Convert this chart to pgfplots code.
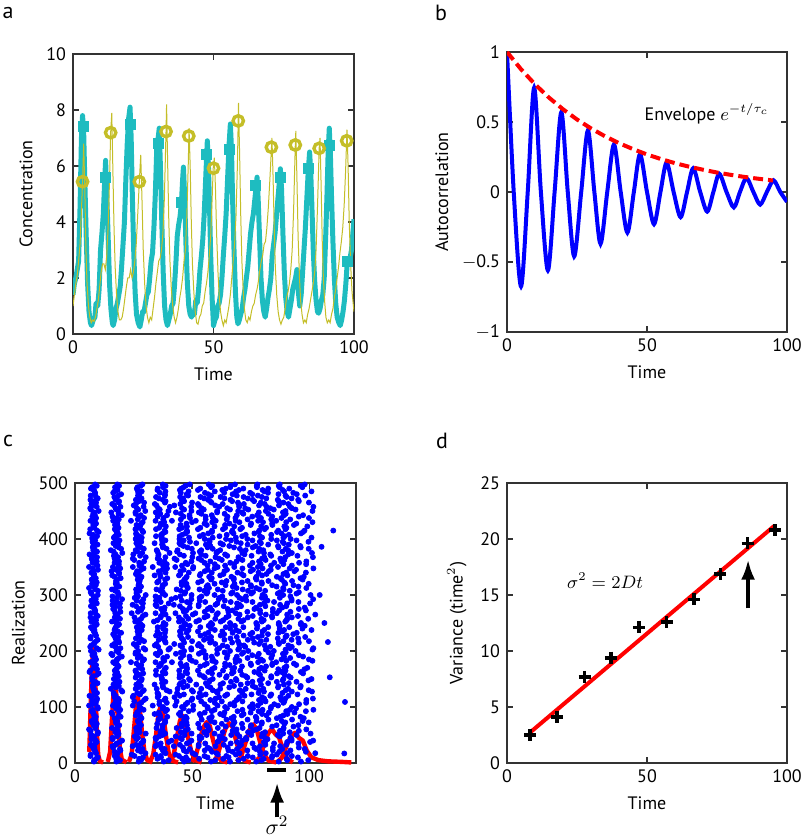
\documentclass[border=0pt]{standalone}
\usepackage{fontspec}
\setmainfont{PT Sans}
\usepackage{pgfplots}
\pgfplotsset{compat=1.18}
\usepackage{pgfplotstable}
\usetikzlibrary{arrows.meta}

\definecolor{cyanline}{RGB}{30,188,192}
\definecolor{oliveline}{RGB}{196,190,40}

\pgfplotsset{panel/.style={
  scale only axis, width=140pt, height=140pt, anchor=south west,
  tick align=inside, major tick length=3pt,
  axis line style={black!80, line width=0.6pt},
  every tick/.style={black!80, line width=0.6pt},
  tick label style={font=\fontsize{9}{10}\selectfont},
  label style={font=\fontsize{9}{10}\selectfont},
  /pgf/number format/assume math mode=true,
  xlabel={Time},
}}

% peak times of each realization (panel c): y, then peaks 1..10
\pgfplotstableread{
y t1 t2 t3 t4 t5 t6 t7 t8 t9 t10
2.5 8.1 17.7 27.2 37.9 46.6 58.1 66.2 77.4 87.0 96.5
7.5 9.0 17.6 27.4 35.2 45.8 53.0 63.3 72.0 80.6 90.4
12.5 6.6 17.0 25.4 36.6 44.4 55.3 64.6 73.8 84.2 92.6
17.5 9.0 18.2 30.1 38.7 50.3 60.4 70.3 81.5 90.6 102.6
22.5 8.5 19.4 26.9 37.5 46.5 55.4 65.5 73.6 84.5 92.0
27.5 8.3 16.3 27.3 36.8 46.1 56.7 65.2 76.6 84.5 95.6
32.5 6.8 17.3 26.1 34.9 44.8 52.8 63.5 70.9 81.3 90.2
37.5 9.3 19.2 29.0 40.0 49.0 60.8 69.2 80.7 90.6 100.4
42.5 7.0 16.1 26.3 34.6 45.6 53.3 64.0 73.2 82.2 92.5
47.5 8.2 17.9 25.5 36.0 43.0 53.2 61.7 70.2 79.8 87.5
52.5 9.7 18.6 30.2 38.5 49.8 59.6 69.2 80.1 88.9 100.6
57.5 6.7 18.2 26.3 37.5 47.1 56.6 67.3 76.0 87.5 95.6
62.5 8.6 15.8 26.1 34.8 43.4 53.2 61.0 71.6 78.8 89.1
67.5 8.0 18.9 28.2 37.4 47.8 56.2 67.4 75.2 86.1 95.4
72.5 7.3 17.4 27.3 38.5 47.6 59.6 68.1 79.8 89.8 99.8
77.5 8.6 17.5 27.6 35.7 46.6 54.1 64.7 73.7 82.6 92.7
82.5 8.9 19.5 28.0 39.4 47.3 58.4 67.8 77.2 87.7 96.3
87.5 7.9 15.9 26.6 34.0 44.4 53.3 62.0 72.0 79.9 90.7
92.5 7.0 18.8 27.2 38.7 48.6 58.4 69.4 78.4 90.2 98.6
97.5 9.8 17.5 28.2 37.4 46.4 56.7 64.9 76.0 83.6 94.4
102.5 6.0 16.2 24.7 33.2 42.8 50.5 60.9 68.0 78.1 86.7
107.5 8.9 18.7 28.3 39.2 48.0 59.7 67.9 79.3 89.0 98.7
112.5 9.3 18.8 29.5 38.2 49.7 57.8 69.0 78.6 88.1 98.8
117.5 7.1 16.9 24.7 35.3 42.5 52.8 61.5 70.1 79.9 87.7
122.5 8.2 16.6 27.8 35.6 46.5 55.8 65.0 75.4 83.8 95.0
127.5 8.2 20.2 28.7 40.4 50.4 60.4 71.5 80.7 92.6 101.2
132.5 7.8 15.3 25.9 34.9 43.8 53.9 62.0 72.9 80.4 91.0
137.5 7.6 18.7 28.1 37.5 48.0 56.6 67.9 75.9 86.9 96.4
142.5 9.6 18.5 27.2 37.2 45.1 55.9 63.2 73.7 82.5 91.3
147.5 7.5 17.3 28.3 37.3 49.1 57.5 69.0 78.9 88.7 99.7
152.5 7.4 17.7 25.9 37.0 44.6 55.4 64.5 73.6 83.8 92.1
157.5 9.4 17.1 27.5 34.6 44.7 53.3 61.7 71.4 79.0 89.5
162.5 6.2 17.9 26.1 37.5 47.2 56.9 67.7 76.6 88.2 96.5
167.5 9.4 17.5 28.7 38.3 47.8 58.5 67.2 78.7 86.8 98.0
172.5 8.3 18.6 27.3 35.9 45.7 53.5 64.1 71.3 81.6 90.3
177.5 7.8 17.1 26.3 36.7 45.1 56.3 64.1 75.0 84.3 93.5
182.5 7.8 17.8 28.9 38.1 50.0 58.6 70.2 80.3 90.2 101.4
187.5 8.6 18.7 26.8 37.7 45.2 55.8 64.8 73.7 83.8 91.9
192.5 7.4 16.0 27.3 35.3 46.3 55.8 65.1 75.7 84.2 95.6
197.5 7.8 18.6 25.9 36.4 45.2 54.0 63.9 71.9 82.6 90.0
202.5 10.1 18.5 30.0 39.9 49.7 60.7 69.7 81.5 89.9 101.4
207.5 6.5 17.3 26.4 35.5 45.7 54.0 65.0 72.7 83.4 92.6
212.5 8.1 16.7 25.1 34.8 42.4 52.9 59.9 70.1 78.6 87.1
217.5 9.0 18.7 29.5 38.4 50.0 58.3 69.6 79.4 89.0 99.9
222.5 6.6 17.3 26.0 37.5 45.6 56.8 66.4 75.9 86.6 95.3
227.5 9.0 16.8 27.4 34.6 44.9 53.6 62.2 72.0 79.8 90.4
232.5 8.5 19.7 27.5 38.4 47.7 56.9 67.3 75.7 86.9 94.7
237.5 8.3 16.9 28.5 38.6 48.5 59.7 68.8 80.8 89.3 101.0
242.5 6.8 17.4 26.4 35.3 45.4 53.5 64.4 71.9 82.5 91.5
247.5 9.3 18.8 28.1 38.7 47.2 58.6 66.5 77.6 87.0 96.4
252.5 7.0 15.8 25.7 33.7 44.4 51.8 62.2 71.1 79.8 89.8
257.5 8.2 19.2 28.2 40.0 48.4 59.9 69.8 79.6 90.6 99.6
262.5 9.7 18.0 29.0 36.7 47.4 56.6 65.6 75.9 84.1 95.2
267.5 6.7 17.2 24.2 34.4 42.9 51.4 61.0 68.7 79.1 86.2
272.5 8.6 16.9 28.2 38.0 47.6 58.5 67.3 79.0 87.2 98.6
277.5 8.0 19.2 28.8 38.3 49.0 57.7 69.2 77.3 88.5 98.1
282.5 7.3 16.0 24.6 34.4 42.2 52.8 60.0 70.3 79.0 87.6
287.5 8.6 17.8 28.2 36.6 47.8 55.6 66.5 75.8 85.0 95.4
292.5 8.9 20.1 29.2 41.2 49.7 61.4 71.4 81.4 92.5 101.7
297.5 7.9 16.0 26.9 34.4 45.0 54.0 62.9 73.0 81.1 92.0
302.5 7.0 18.4 26.3 37.4 46.8 56.2 66.7 75.3 86.6 94.6
307.5 9.8 17.2 27.6 36.5 45.2 55.2 63.1 73.9 81.2 91.7
312.5 6.0 17.5 27.4 37.2 48.2 57.2 69.0 77.4 88.9 98.8
317.5 8.9 18.1 27.1 37.4 45.6 56.7 64.3 75.1 84.2 93.3
322.5 9.3 17.8 27.4 35.1 45.5 52.6 62.7 71.3 79.7 89.4
327.5 7.1 18.0 26.8 38.5 46.7 58.1 67.8 77.5 88.3 97.2
332.5 8.2 16.9 28.4 36.5 47.7 57.3 66.8 77.5 86.2 97.7
337.5 8.2 18.8 26.0 36.3 45.0 53.6 63.4 71.2 81.8 89.0
342.5 7.8 15.6 26.5 35.8 45.0 55.4 63.8 75.0 82.8 93.7
347.5 7.6 19.3 29.3 39.3 50.4 59.6 71.5 80.1 91.7 101.8
352.5 9.6 18.6 27.5 37.6 45.7 56.6 64.1 74.7 83.7 92.6
357.5 7.5 16.9 27.4 36.0 47.3 55.3 66.3 75.8 85.1 95.7
362.5 7.4 17.4 25.3 36.1 43.4 53.9 62.7 71.5 81.4 89.4
367.5 9.4 18.4 30.2 38.6 50.1 60.0 69.8 80.8 89.8 101.6
372.5 6.2 17.3 24.9 35.7 44.8 53.9 64.1 72.4 83.4 91.1
377.5 9.4 16.5 26.6 35.2 43.6 53.3 60.9 71.4 78.4 88.6
382.5 8.3 19.7 29.4 39.1 49.9 58.8 70.4 78.7 90.0 99.8
387.5 7.8 17.4 26.9 37.6 46.3 57.8 65.9 77.1 86.7 96.2
392.5 7.8 16.4 26.2 34.0 44.6 51.8 62.1 70.8 79.4 89.2
397.5 8.6 19.0 27.4 38.6 46.4 57.3 66.6 75.8 86.2 94.6
402.5 7.4 16.6 28.5 37.1 48.7 58.8 68.7 79.9 89.0 101.0
407.5 7.8 18.7 26.2 36.8 45.8 54.7 64.8 72.9 83.8 91.3
412.5 10.1 18.1 29.1 38.6 47.9 58.5 67.0 78.4 86.3 97.4
417.5 6.5 17.0 25.8 34.6 44.5 52.5 63.2 70.6 81.0 89.9
422.5 8.1 18.0 27.8 38.8 47.8 59.6 68.0 79.5 89.4 99.2
427.5 9.0 18.1 28.3 36.6 47.6 55.3 66.0 75.2 84.2 94.5
432.5 6.6 16.3 23.9 34.4 41.4 51.6 60.1 68.6 78.2 85.9
437.5 9.0 17.9 29.5 37.8 49.1 58.9 68.5 79.4 88.2 99.9
442.5 8.5 20.0 28.1 39.3 48.9 58.4 69.1 77.8 89.3 97.4
447.5 8.3 15.5 25.8 34.5 43.1 52.9 60.7 71.3 78.5 88.8
452.5 6.8 17.7 27.0 36.2 46.6 55.0 66.2 74.0 84.9 94.2
457.5 9.3 19.4 29.3 40.5 49.6 61.6 70.1 81.8 91.8 101.8
462.5 7.0 15.9 26.0 34.1 45.0 52.5 63.1 72.1 81.0 91.1
467.5 8.2 18.8 27.3 38.7 46.6 57.7 67.1 76.5 87.0 95.6
472.5 9.7 17.7 28.4 35.8 46.2 55.1 63.8 73.8 81.7 92.5
477.5 6.7 18.5 26.9 38.4 48.3 58.1 69.1 78.1 89.9 98.3
482.5 8.6 16.3 27.0 36.2 45.2 55.5 63.7 74.8 82.4 93.2
487.5 8.0 18.2 26.7 35.2 44.8 52.5 62.9 70.0 80.1 88.7
492.5 7.3 17.1 26.7 37.6 46.4 58.1 66.3 77.7 87.4 97.1
497.5 8.6 18.1 28.8 37.5 49.0 57.1 68.3 77.9 87.4 98.1
}\peaktimes

% a second batch of realizations, between the rows above
\pgfplotstableread{
y t1 t2 t3 t4 t5 t6 t7 t8 t9 t10
5 8.2 19.2 28.2 40.0 48.4 59.9 69.8 79.6 90.6 99.6
10 9.7 18.0 29.0 36.7 47.4 56.6 65.6 75.9 84.1 95.2
15 6.7 17.2 24.2 34.4 42.9 51.4 61.0 68.7 79.1 86.2
20 8.6 16.9 28.2 38.0 47.6 58.5 67.3 79.0 87.2 98.6
25 8.0 19.2 28.8 38.3 49.0 57.7 69.2 77.3 88.5 98.1
30 7.3 16.0 24.6 34.4 42.2 52.8 60.0 70.3 79.0 87.6
35 8.6 17.8 28.2 36.6 47.8 55.6 66.5 75.8 85.0 95.4
40 8.9 20.1 29.2 41.2 49.7 61.4 71.4 81.4 92.5 101.7
45 7.9 16.0 26.9 34.4 45.0 54.0 62.9 73.0 81.1 92.0
50 7.0 18.4 26.3 37.4 46.8 56.2 66.7 75.3 86.6 94.6
55 9.8 17.2 27.6 36.5 45.2 55.2 63.1 73.9 81.2 91.7
60 6.0 17.5 27.4 37.2 48.2 57.2 69.0 77.4 88.9 98.8
65 8.9 18.1 27.1 37.4 45.6 56.7 64.3 75.1 84.2 93.3
70 9.3 17.8 27.4 35.1 45.5 52.6 62.7 71.3 79.7 89.4
75 7.1 18.0 26.8 38.5 46.7 58.1 67.8 77.5 88.3 97.2
80 8.2 16.9 28.4 36.5 47.7 57.3 66.8 77.5 86.2 97.7
85 8.2 18.8 26.0 36.3 45.0 53.6 63.4 71.2 81.8 89.0
90 7.8 15.6 26.5 35.8 45.0 55.4 63.8 75.0 82.8 93.7
95 7.6 19.3 29.3 39.3 50.4 59.6 71.5 80.1 91.7 101.8
100 9.6 18.6 27.5 37.6 45.7 56.6 64.1 74.7 83.7 92.6
105 7.5 16.9 27.4 36.0 47.3 55.3 66.3 75.8 85.1 95.7
110 7.4 17.4 25.3 36.1 43.4 53.9 62.7 71.5 81.4 89.4
115 9.4 18.4 30.2 38.6 50.1 60.0 69.8 80.8 89.8 101.6
120 6.2 17.3 24.9 35.7 44.8 53.9 64.1 72.4 83.4 91.1
125 9.4 16.5 26.6 35.2 43.6 53.3 60.9 71.4 78.4 88.6
130 8.3 19.7 29.4 39.1 49.9 58.8 70.4 78.7 90.0 99.8
135 7.8 17.4 26.9 37.6 46.3 57.8 65.9 77.1 86.7 96.2
140 7.8 16.4 26.2 34.0 44.6 51.8 62.1 70.8 79.4 89.2
145 8.6 19.0 27.4 38.6 46.4 57.3 66.6 75.8 86.2 94.6
150 7.4 16.6 28.5 37.1 48.7 58.8 68.7 79.9 89.0 101.0
155 7.8 18.7 26.2 36.8 45.8 54.7 64.8 72.9 83.8 91.3
160 10.1 18.1 29.1 38.6 47.9 58.5 67.0 78.4 86.3 97.4
165 6.5 17.0 25.8 34.6 44.5 52.5 63.2 70.6 81.0 89.9
170 8.1 18.0 27.8 38.8 47.8 59.6 68.0 79.5 89.4 99.2
175 9.0 18.1 28.3 36.6 47.6 55.3 66.0 75.2 84.2 94.5
180 6.6 16.3 23.9 34.4 41.4 51.6 60.1 68.6 78.2 85.9
185 9.0 17.9 29.5 37.8 49.1 58.9 68.5 79.4 88.2 99.9
190 8.5 20.0 28.1 39.3 48.9 58.4 69.1 77.8 89.3 97.4
195 8.3 15.5 25.8 34.5 43.1 52.9 60.7 71.3 78.5 88.8
200 6.8 17.7 27.0 36.2 46.6 55.0 66.2 74.0 84.9 94.2
205 9.3 19.4 29.3 40.5 49.6 61.6 70.1 81.8 91.8 101.8
210 7.0 15.9 26.0 34.1 45.0 52.5 63.1 72.1 81.0 91.1
215 8.2 18.8 27.3 38.7 46.6 57.7 67.1 76.5 87.0 95.6
220 9.7 17.7 28.4 35.8 46.2 55.1 63.8 73.8 81.7 92.5
225 6.7 18.5 26.9 38.4 48.3 58.1 69.1 78.1 89.9 98.3
230 8.6 16.3 27.0 36.2 45.2 55.5 63.7 74.8 82.4 93.2
235 8.0 18.2 26.7 35.2 44.8 52.5 62.9 70.0 80.1 88.7
240 7.3 17.1 26.7 37.6 46.4 58.1 66.3 77.7 87.4 97.1
245 8.6 18.1 28.8 37.5 49.0 57.1 68.3 77.9 87.4 98.1
250 8.1 17.7 27.2 37.9 46.6 58.1 66.2 77.4 87.0 96.5
255 9.0 17.6 27.4 35.2 45.8 53.0 63.3 72.0 80.6 90.4
260 6.6 17.0 25.4 36.6 44.4 55.3 64.6 73.8 84.2 92.6
265 9.0 18.2 30.1 38.7 50.3 60.4 70.3 81.5 90.6 102.6
270 8.5 19.4 26.9 37.5 46.5 55.4 65.5 73.6 84.5 92.0
275 8.3 16.3 27.3 36.8 46.1 56.7 65.2 76.6 84.5 95.6
280 6.8 17.3 26.1 34.9 44.8 52.8 63.5 70.9 81.3 90.2
285 9.3 19.2 29.0 40.0 49.0 60.8 69.2 80.7 90.6 100.4
290 7.0 16.1 26.3 34.6 45.6 53.3 64.0 73.2 82.2 92.5
295 8.2 17.9 25.5 36.0 43.0 53.2 61.7 70.2 79.8 87.5
300 9.7 18.6 30.2 38.5 49.8 59.6 69.2 80.1 88.9 100.6
305 6.7 18.2 26.3 37.5 47.1 56.6 67.3 76.0 87.5 95.6
310 8.6 15.8 26.1 34.8 43.4 53.2 61.0 71.6 78.8 89.1
315 8.0 18.9 28.2 37.4 47.8 56.2 67.4 75.2 86.1 95.4
320 7.3 17.4 27.3 38.5 47.6 59.6 68.1 79.8 89.8 99.8
325 8.6 17.5 27.6 35.7 46.6 54.1 64.7 73.7 82.6 92.7
330 8.9 19.5 28.0 39.4 47.3 58.4 67.8 77.2 87.7 96.3
335 7.9 15.9 26.6 34.0 44.4 53.3 62.0 72.0 79.9 90.7
340 7.0 18.8 27.2 38.7 48.6 58.4 69.4 78.4 90.2 98.6
345 9.8 17.5 28.2 37.4 46.4 56.7 64.9 76.0 83.6 94.4
350 6.0 16.2 24.7 33.2 42.8 50.5 60.9 68.0 78.1 86.7
355 8.9 18.7 28.3 39.2 48.0 59.7 67.9 79.3 89.0 98.7
360 9.3 18.8 29.5 38.2 49.7 57.8 69.0 78.6 88.1 98.8
365 7.1 16.9 24.7 35.3 42.5 52.8 61.5 70.1 79.9 87.7
370 8.2 16.6 27.8 35.6 46.5 55.8 65.0 75.4 83.8 95.0
375 8.2 20.2 28.7 40.4 50.4 60.4 71.5 80.7 92.6 101.2
380 7.8 15.3 25.9 34.9 43.8 53.9 62.0 72.9 80.4 91.0
385 7.6 18.7 28.1 37.5 48.0 56.6 67.9 75.9 86.9 96.4
390 9.6 18.5 27.2 37.2 45.1 55.9 63.2 73.7 82.5 91.3
395 7.5 17.3 28.3 37.3 49.1 57.5 69.0 78.9 88.7 99.7
400 7.4 17.7 25.9 37.0 44.6 55.4 64.5 73.6 83.8 92.1
405 9.4 17.1 27.5 34.6 44.7 53.3 61.7 71.4 79.0 89.5
410 6.2 17.9 26.1 37.5 47.2 56.9 67.7 76.6 88.2 96.5
415 9.4 17.5 28.7 38.3 47.8 58.5 67.2 78.7 86.8 98.0
420 8.3 18.6 27.3 35.9 45.7 53.5 64.1 71.3 81.6 90.3
425 7.8 17.1 26.3 36.7 45.1 56.3 64.1 75.0 84.3 93.5
430 7.8 17.8 28.9 38.1 50.0 58.6 70.2 80.3 90.2 101.4
435 8.6 18.7 26.8 37.7 45.2 55.8 64.8 73.7 83.8 91.9
440 7.4 16.0 27.3 35.3 46.3 55.8 65.1 75.7 84.2 95.6
445 7.8 18.6 25.9 36.4 45.2 54.0 63.9 71.9 82.6 90.0
450 10.1 18.5 30.0 39.9 49.7 60.7 69.7 81.5 89.9 101.4
455 6.5 17.3 26.4 35.5 45.7 54.0 65.0 72.7 83.4 92.6
460 8.1 16.7 25.1 34.8 42.4 52.9 59.9 70.1 78.6 87.1
465 9.0 18.7 29.5 38.4 50.0 58.3 69.6 79.4 89.0 99.9
470 6.6 17.3 26.0 37.5 45.6 56.8 66.4 75.9 86.6 95.3
475 9.0 16.8 27.4 34.6 44.9 53.6 62.2 72.0 79.8 90.4
480 8.5 19.7 27.5 38.4 47.7 56.9 67.3 75.7 86.9 94.7
485 8.3 16.9 28.5 38.6 48.5 59.7 68.8 80.8 89.3 101.0
490 6.8 17.4 26.4 35.3 45.4 53.5 64.4 71.9 82.5 91.5
495 9.3 18.8 28.1 38.7 47.2 58.6 66.5 77.6 87.0 96.4
}\peaktimesb

\begin{document}
\begin{tikzpicture}
\path[use as bounding box] (0,0) rectangle (400pt,419.5pt);
\tikzset{lbl/.style={font=\fontsize{11}{12}\selectfont}}
\node[lbl] at (4pt,413pt) {a};
\node[lbl] at (220.5pt,413pt) {b};
\node[lbl] at (4pt,199pt) {c};
\node[lbl] at (221pt,199pt) {d};

% ---- a: concentrations
\begin{axis}[panel, at={(36.5pt,252.5pt)}, width=140.5pt,
  xmin=0, xmax=100, ymin=0, ymax=10,
  xtick={0,50,100}, ytick={0,2,4,6,8,10},
  ylabel={Concentration}]
\addplot[cyanline, line width=2.5pt, line join=round] coordinates {
(0,1.4) (0.5,1.8) (1,2.0) (1.5,2.3) (2,2.6) (2.5,4.5) (3,7.0) (3.4,7.8) (3.8,7.2) (4.2,5.5) (4.7,3.5) (5.2,1.8) (5.7,0.8) (6.2,0.4) (6.6,0.3) (7.2,0.5) (7.8,0.6) (8.2,1.1) (8.8,1.0) (9.3,1.6) (9.8,3.0) (10.3,3.6) (10.8,4.3) (11.2,5.3) (11.6,6.2) (12,5.0) (12.5,3.5) (13,1.8) (13.5,0.9) (14,0.4) (14.3,0.3) (14.8,0.5) (15.3,0.9) (15.8,1.1) (16.3,1.4) (16.8,1.7) (17.3,2.4) (17.8,3.2) (18.3,4.0) (18.8,5.5) (19.3,6.8) (19.8,7.7) (20.3,8.1) (20.7,7.0) (21.1,5.0) (21.6,3.0) (22.1,1.5) (22.6,0.7) (23.2,0.4) (23.8,0.25) (24.3,0.5) (24.8,0.8) (25.3,0.8) (25.8,1.1) (26.3,1.4) (26.8,1.5) (27.3,2.0) (27.8,2.6) (28.3,2.9) (28.8,3.8) (29.3,5.0) (29.8,6.6) (30.3,7.0) (30.7,7.35) (31.1,6.0) (31.6,4.0) (32.1,2.2) (32.6,1.0) (33.1,0.5) (33.6,0.3) (34.1,0.5) (34.6,0.7) (35.1,1.0) (35.6,1.1) (36.1,1.7) (36.6,2.5) (37.1,3.5) (37.6,3.9) (38.1,4.2) (38.6,4.7) (39.0,5.5) (39.3,5.96) (39.7,5.0) (40.2,3.2) (40.7,1.8) (41.2,1.0) (41.7,0.7) (42.2,0.6) (42.7,0.8) (43.2,0.7) (43.7,1.2) (44.2,1.1) (44.7,1.6) (45.2,2.3) (45.7,2.8) (46.2,3.4) (46.7,4.3) (47.2,5.5) (47.8,6.9) (48.2,6.0) (48.6,4.5) (49.0,2.8) (49.5,1.3) (50.0,0.3) (50.5,0.5) (51,0.6) (51.5,1.0) (52,1.1) (52.5,1.4) (53,2.0) (53.5,2.8) (54,3.5) (54.5,4.3) (55,5.5) (55.5,6.7) (56,7.5) (56.4,6.6) (56.8,4.8) (57.3,3.0) (57.8,1.5) (58.3,0.6) (58.7,0.36) (59.2,0.5) (59.7,0.7) (60.2,0.9) (60.7,1.3) (61.2,1.6) (61.7,2.0) (62.2,2.4) (62.7,3.0) (63.2,3.6) (63.7,4.0) (64.2,4.3) (64.7,4.8) (65.2,5.3) (65.5,5.6) (65.9,4.8) (66.4,3.4) (66.9,2.0) (67.4,1.2) (67.9,0.8) (68.4,0.6) (68.9,0.9) (69.4,1.3) (69.9,1.6) (70.4,2.0) (70.9,2.8) (71.4,3.2) (71.9,3.6) (72.4,4.2) (72.9,4.8) (73.4,5.4) (73.8,5.9) (74.2,5.2) (74.7,3.6) (75.2,2.2) (75.7,1.3) (76.2,0.8) (76.7,0.6) (77.2,0.9) (77.7,1.2) (78.2,1.6) (78.7,1.8) (79.2,2.0) (79.7,2.3) (80.2,1.5) (80.7,1.0) (81.2,1.4) (81.7,2.2) (82.2,3.0) (82.7,3.8) (83.2,4.8) (83.7,5.8) (84.2,6.5) (84.6,5.8) (85,4.6) (85.5,3.0) (86,1.9) (86.5,1.2) (87.0,0.8) (87.4,0.74) (87.9,0.9) (88.4,1.2) (88.9,1.4) (89.4,2.0) (89.9,3.4) (90.4,5.0) (90.8,6.5) (91.2,7.35) (91.6,6.4) (92,4.9) (92.5,3.3) (93,2.0) (93.5,1.1) (94,0.6) (94.6,0.4) (95.1,0.3) (95.6,0.5) (96.1,0.8) (96.6,1.2) (97.1,1.8) (97.6,2.55) (98.1,2.6) (98.6,2.7) (99.1,3.0) (99.6,3.6) (100,4.1)
};
\addplot[oliveline, line width=0.5pt] coordinates {
(0,1.0) (0.5,1.4) (1,1.8) (1.5,2.1) (2,2.6) (2.5,3.2) (3,4.4) (3.4,5.44) (3.8,6.8) (4.2,5.2) (4.6,3.0) (5,1.8) (5.5,1.0) (6,0.6) (6.5,0.4) (7,0.5) (7.5,0.45) (8,0.6) (8.5,0.9) (9,1.2) (9.5,1.7) (10,2.2) (10.5,2.5) (11,2.5) (11.5,2.3) (12,2.8) (12.5,3.8) (13,5.5) (13.4,7.19) (13.8,7.9) (14.2,5.8) (14.6,3.8) (15,2.4) (15.5,1.4) (16,0.8) (16.5,0.5) (17,0.5) (17.5,0.6) (18,0.9) (18.5,1.3) (19,1.7) (19.5,2.0) (20,2.0) (20.5,2.3) (21,2.0) (21.5,2.2) (22,2.6) (22.5,3.2) (23,4.2) (23.6,5.44) (24.1,6.4) (24.5,5.0) (25,3.0) (25.5,1.8) (26,1.0) (26.5,0.6) (27,0.4) (27.5,0.6) (28,0.5) (28.5,0.9) (29,1.3) (29.5,1.8) (30,2.2) (30.5,2.6) (31,2.7) (31.5,3.0) (32,3.6) (32.5,4.8) (33.1,7.23) (33.3,8.2) (33.7,6.0) (34.1,4.0) (34.5,2.6) (35,1.6) (35.5,1.0) (36,0.6) (36.5,0.4) (37,0.6) (37.5,0.9) (38,1.3) (38.5,1.6) (39,2.0) (39.5,2.6) (40,3.0) (40.5,4.2) (41,6.0) (41.3,7.35) (41.7,6.0) (42.1,4.0) (42.5,2.5) (43,1.5) (43.5,0.8) (44,0.4) (44.5,0.35) (45,0.6) (45.5,0.7) (46,1.0) (46.5,1.1) (47,1.5) (47.5,1.8) (48,2.2) (48.5,2.8) (49,3.5) (49.5,4.8) (49.9,5.92) (50.3,6.3) (50.7,5.2) (51.1,3.6) (51.6,2.2) (52,1.4) (52.5,0.8) (53,0.5) (53.5,0.3) (54,0.5) (54.5,0.4) (55,0.7) (55.5,1.0) (56,1.4) (56.5,2.0) (57,2.6) (57.5,3.2) (58,4.2) (58.5,6.0) (58.9,8.25) (59.3,6.4) (59.7,4.2) (60.1,2.6) (60.6,1.5) (61,0.9) (61.5,0.5) (62,0.4) (62.5,0.6) (63,0.5) (63.5,0.8) (64,1.0) (64.5,1.1) (65,1.4) (65.5,1.6) (66,1.9) (66.5,2.3) (67,2.6) (67.5,2.8) (68,3.2) (68.5,3.3) (69,3.8) (69.5,4.5) (70,5.4) (70.5,6.4) (70.8,7.0) (71.2,5.6) (71.6,3.8) (72,2.4) (72.5,1.4) (73,0.8) (73.5,0.5) (74,0.35) (74.5,0.5) (75,0.6) (75.5,0.9) (76,1.3) (76.5,1.5) (77,1.8) (77.5,2.3) (78,3.0) (78.5,4.4) (79.1,6.75) (79.3,7.25) (79.7,5.5) (80.1,3.5) (80.6,2.0) (81,1.2) (81.5,0.7) (82,0.4) (82.5,0.5) (83,0.4) (83.5,0.7) (84,0.9) (84.5,1.2) (85,1.5) (85.5,1.8) (86,2.2) (86.5,3.0) (87,4.5) (87.6,6.63) (87.9,7.0) (88.3,5.3) (88.7,3.3) (89.1,2.0) (89.6,1.1) (90,0.6) (90.5,0.4) (91,0.5) (91.5,0.4) (92,0.7) (92.5,0.9) (93,1.3) (93.5,1.6) (94,2.0) (94.5,2.4) (95,2.9) (95.5,3.3) (96,3.8) (96.5,4.6) (97,5.8) (97.5,7.3) (97.9,6.0) (98.3,4.0) (98.8,2.5) (99.3,1.5) (100,0.8)
};
\addplot[only marks, mark=square*, mark size=2.5pt, cyanline] coordinates {
(3.7,7.4) (11.4,5.6) (20.3,7.5) (30.4,6.8) (38.6,4.7) (47.6,6.4) (55.6,6.6) (65.0,5.3) (73.8,5.6) (83.8,5.9) (91.2,6.75) (97.5,2.6)
};
\addplot[only marks, mark=o, mark size=2.6pt, oliveline, mark options={line width=1.7pt}] coordinates {
(3.4,5.44) (13.4,7.19) (23.6,5.44) (33.1,7.23) (41.2,7.07) (50.0,5.92) (58.8,7.61) (70.6,6.67) (79.1,6.75) (87.6,6.63) (97.4,6.9)
};
\end{axis}

% ---- b: autocorrelation
\begin{axis}[panel, at={(253.5pt,253.5pt)},
  xmin=0, xmax=100, ymin=-1, ymax=1,
  xtick={0,50,100}, ytick={-1,-0.5,0,0.5,1},
  yticklabels={$-$1,$-$0.5,0,0.5,1},
  ylabel={Autocorrelation}]
\addplot[blue, line width=2pt, smooth] coordinates {
(0,1.0) (2.4,0) (5.0,-0.674) (7.4,0) (9.7,0.745) (12.1,0) (14.6,-0.56) (17.0,0) (19.4,0.57) (21.7,0) (24.0,-0.46) (26.5,0) (28.9,0.44) (31.2,0) (33.4,-0.37) (35.8,0) (38.2,0.34) (40.6,0) (43.0,-0.29) (45.3,0) (47.5,0.27) (50.0,0) (52.5,-0.23) (54.8,0) (57.0,0.21) (59.5,0) (62.0,-0.18) (64.3,0) (66.5,0.17) (69.0,0) (71.5,-0.14) (73.7,0) (75.8,0.13) (78.4,0) (81.0,-0.11) (83.2,0) (85.5,0.10) (88.0,0) (90.4,-0.09) (92.8,0) (95.2,0.083) (97.6,0) (100,-0.07)
};
\addplot[red, line width=2pt, dash pattern=on 5pt off 2.5pt] coordinates {
(0,1) (5,0.877) (10,0.769) (15,0.674) (20,0.591) (25,0.518) (30,0.454) (35,0.398) (40,0.349) (45,0.306) (50,0.268) (55,0.235) (60,0.206) (65,0.181) (70,0.159) (75,0.139) (80,0.122) (85,0.107) (90,0.094) (95,0.082)
};
\node[anchor=west, inner sep=0pt, font=\fontsize{9}{10}\selectfont] at (axis cs:49,0.56) {Envelope $e^{-t/\tau_c}$};
\end{axis}

% ---- c: peak times of each realization, with their histograms
\begin{axis}[panel, at={(37.5pt,38pt)}, width=140.5pt, clip=false,
  xmin=0, xmax=120, ymin=0, ymax=500,
  xtick={0,50,100}, ytick={0,100,200,300,400,500},
  ylabel={Realization}]
\pgfplotsinvokeforeach{1,...,10}{
  \addplot[only marks, mark=*, mark size=1.25pt, blue] table[x=t#1, y=y]{\peaktimes};
  \addplot[only marks, mark=*, mark size=1.25pt, blue] table[x=t#1, y=y]{\peaktimesb};
}
\addplot[only marks, mark=*, mark size=1.25pt, blue] coordinates {
(110.3,415) (115.3,109) (115,17) (108.8,153) (105.3,386) (108,216) (104.5,300) (106.5,250)
};
\pgfplotsset{every axis plot post/.append style={line join=round}}
\addplot[red, line width=2.2pt] coordinates {(6.1,20) (6.6,90) (7.2,170) (7.8,204) (8.3,195) (8.8,130) (9.3,60) (9.9,15) (10.6,3) (12,1)};
\addplot[red, line width=2.2pt] coordinates {(14,2) (15,20) (15.8,80) (16.5,130) (17.1,145) (17.7,120) (18.4,70) (19.2,25) (20,6) (22,1)};
\addplot[red, line width=2.2pt] coordinates {(23,2) (24.2,15) (25.2,60) (26.1,105) (26.8,118) (27.6,100) (28.6,55) (29.6,22) (30.8,5) (33,1)};
\addplot[red, line width=2.2pt] coordinates {(32,2) (33.4,15) (34.6,50) (35.7,90) (36.6,101) (37.6,88) (38.8,50) (40,18) (41.5,4) (44,1)};
\addplot[red, line width=2.2pt] coordinates {(40.5,2) (42,12) (43.5,45) (44.8,75) (45.8,85) (46.9,78) (48.3,45) (49.8,18) (51.5,5) (54,1)};
\addplot[red, line width=2.2pt] coordinates {(50,2) (51.5,12) (53,35) (54.6,62) (56.2,73) (57.6,66) (59,40) (60.6,15) (62.5,4) (65,1)};
\addplot[red, line width=2.2pt] coordinates {(59,2) (60.8,12) (62.5,38) (64.3,62) (65.9,71) (67.4,64) (68.9,38) (70.5,15) (72.5,4) (75,1)};
\addplot[red, line width=2.2pt] coordinates {(69,2) (70.8,10) (72.5,32) (74.4,58) (76.1,69) (77.6,60) (79.2,35) (80.8,14) (82.8,4) (86,1)};
\addplot[red, line width=2.2pt] coordinates {(77,2) (78.8,10) (80.7,32) (82.4,52) (84.0,61) (85.5,52) (87.2,45) (88.7,25) (90.5,8) (93,1)};
\addplot[red, line width=2.2pt] coordinates {(86.5,2) (88.4,10) (90.3,30) (92.2,48) (93.9,54) (95.6,45) (97.3,40) (99.0,22) (101,10) (104,5) (108,3) (114,2) (118,1)};
\draw[line width=2pt] (axis cs:82,-12.5) -- (axis cs:90.1,-12.5);
\draw[-{Latex[length=10pt,width=7pt]}, line width=1.7pt] (axis cs:86.3,-97) -- (axis cs:86.3,-35);
\node[anchor=north, inner sep=0pt, font=\fontsize{11}{12}\selectfont] at (axis cs:86.3,-95) {$\sigma^2$};
\end{axis}

% ---- d: variance of the peak times
\begin{axis}[panel, at={(253.5pt,38pt)},
  xmin=0, xmax=100, ymin=0, ymax=25,
  xtick={0,50,100}, ytick={0,5,10,15,20,25},
  ylabel={Variance (time$^2$)}]
\addplot[red, line width=2pt] coordinates {(8.5,2.78) (95.6,21.2)};
\addplot[only marks, mark=+, mark size=3pt, black, mark options={line width=1.8pt}] coordinates {
(8.3,2.48) (17.8,4.12) (27.7,7.7) (37.1,9.4) (47.1,12.1) (57,12.6) (66.7,14.6) (76.2,16.9) (85.9,19.6) (95.8,20.8)
};
\draw[-{Latex[length=10pt,width=7pt]}, line width=1.7pt] (axis cs:86.1,13.8) -- (axis cs:86.1,18.15);
\node[anchor=west, inner sep=0pt, font=\fontsize{9}{10}\selectfont] at (axis cs:21.3,16.3) {$\sigma^2 = 2Dt$};
\end{axis}
\end{tikzpicture}
\end{document}
